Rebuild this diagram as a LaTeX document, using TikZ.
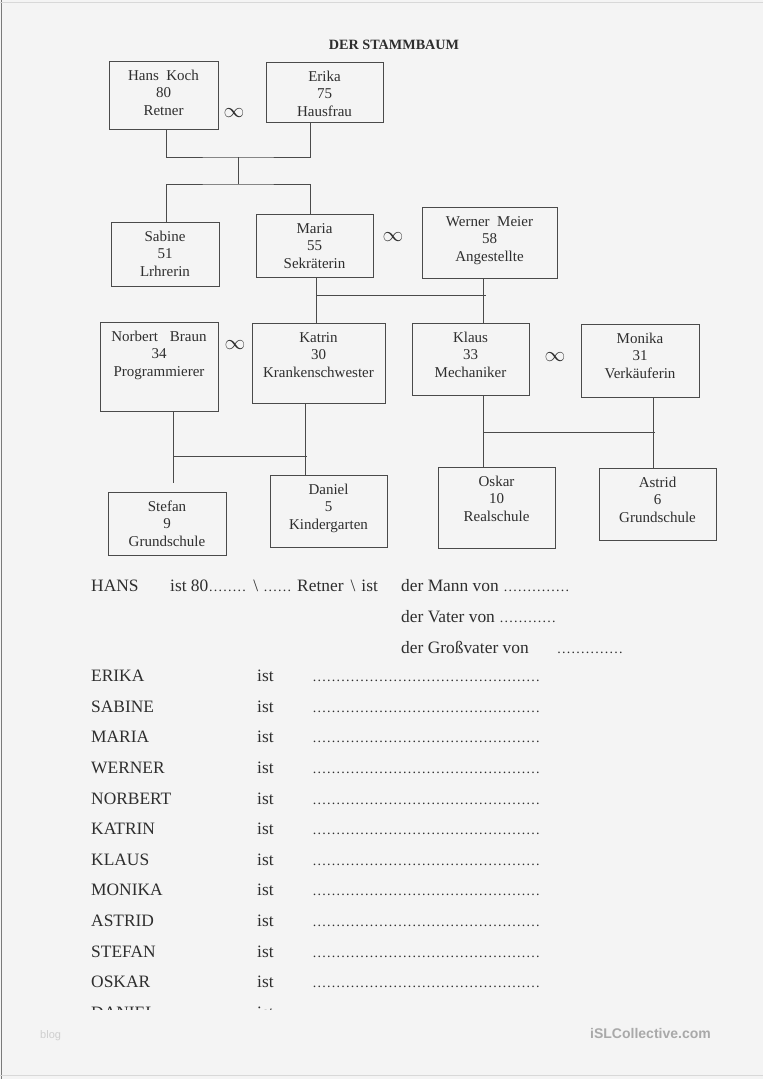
\documentclass[tikz,border=0pt]{standalone}
\usepackage{fontspec}
\setmainfont{Liberation Serif}
\newfontfamily\footsans{Liberation Sans}
\definecolor{bg}{HTML}{F4F4F4}
\definecolor{txt}{HTML}{2E2E2E}
\definecolor{linec}{HTML}{4A4A4A}
\definecolor{edgedark}{HTML}{7A7A7A}
\definecolor{edgelight}{HTML}{D8D8D8}
\definecolor{blogc}{HTML}{CFCFCF}
\definecolor{islc}{HTML}{A9A9A9}
\newcommand\pcard[3]{\parbox[t][#2][t]{#1}{\centering\rule{0pt}{19pt}#3\par}}
\newcommand\blankdots[1]{{\fontsize{14}{14}\selectfont\makebox[#1][l]{\leaders\hbox to 4.75pt{\hss.\hss}\hfill}}}
\begin{document}
\begin{tikzpicture}[x=1pt,y=-1pt,
  person/.style={draw=linec, line width=0.8pt, inner sep=0pt, outer sep=0pt, anchor=north west, text=txt, font=\fontsize{15}{17.5}\selectfont},
  link/.style={draw=linec, line width=0.8pt},
  marry/.style={text=txt, font=\fontsize{20}{20}\selectfont, inner sep=0pt},
  lbl/.style={anchor=base west, text=txt, font=\fontsize{17.4}{20}\selectfont, inner sep=0pt},
]
\fill[bg] (0,0) rectangle (763,1079);
\useasboundingbox (0,0) rectangle (763,1079);
\draw[edgedark, line width=1pt] (1.5,0) -- (1.5,1079);
\draw[edgelight, line width=0.8pt] (0,2) -- (763,2);
\draw[edgelight, line width=0.8pt] (0,1075) -- (763,1075);

% title
\node[anchor=base, font=\bfseries\fontsize{14.2}{14.2}\selectfont, text=txt, inner sep=0pt] (title) at (394,49) {DER STAMMBAUM};

% persons
\node[person] (hans)    at (109,61)  {\pcard{109pt}{68pt}{Hans\ \ Koch\\80\\Retner}};
\node[person] (erika)   at (266,62)  {\pcard{117pt}{60pt}{Erika\\75\\Hausfrau}};
\node[person] (sabine)  at (111,222) {\pcard{108pt}{64pt}{Sabine\\51\\Lrhrerin}};
\node[person] (maria)   at (256,214) {\pcard{117pt}{63pt}{Maria\\55\\Sekräterin}};
\node[person] (werner)  at (422,207) {\pcard{135pt}{71pt}{Werner\ \ Meier\\58\\Angestellte}};
\node[person] (norbert) at (100,322) {\pcard{118pt}{89pt}{Norbert\hspace{12pt}Braun\\34\\Programmierer}};
\node[person] (katrin)  at (252,323) {\pcard{133pt}{80pt}{Katrin\\30\\Krankenschwester}};
\node[person] (klaus)   at (412,323) {\pcard{117pt}{72pt}{Klaus\\33\\Mechaniker}};
\node[person] (monika)  at (581,324) {\pcard{118pt}{73pt}{Monika\\31\\Verkäuferin}};
\node[person] (stefan)  at (108,492) {\pcard{118pt}{63pt}{Stefan\\9\\Grundschule}};
\node[person] (daniel)  at (270,475) {\pcard{117pt}{72pt}{Daniel\\5\\Kindergarten}};
\node[person] (oskar)   at (438,467) {\pcard{117pt}{81pt}{Oskar\\10\\Realschule}};
\node[person] (astrid)  at (599,468) {\pcard{117pt}{72pt}{Astrid\\6\\Grundschule}};

% marriage symbols
\node[marry] (m1) at (234,113) {$\infty$};
\node[marry] (m2) at (393,237) {$\infty$};
\node[marry] (m3) at (235,345) {$\infty$};
\node[marry] (m4) at (555,357) {$\infty$};

% connectors: Hans + Erika
\coordinate (j1) at (238,157);
\coordinate (j2) at (238,184);
\draw[link] ([xshift=2.5pt]hans.south) |- (j1) -| ([xshift=-14.5pt]erika.south);
\draw[link] (j1) -- (j2);
\draw[link] ([xshift=1pt]sabine.north) |- (j2) -| ([xshift=-4.5pt]maria.north);

% Maria + Werner
\coordinate (mS) at ([xshift=1.5pt]maria.south);
\coordinate (wS) at ([xshift=-6.5pt]werner.south);
\coordinate (j3) at (400,295);
\draw[link] (mS) -- (mS |- katrin.north);
\draw[link] (wS) -- (wS |- klaus.north);
\draw[link] (mS |- j3) -- ([xshift=3pt]wS |- j3);

% Norbert + Katrin
\coordinate (nS) at ([xshift=14pt]norbert.south);
\coordinate (kS) at ([xshift=-13.5pt]katrin.south);
\coordinate (sT) at ([xshift=6pt,yshift=9pt]stefan.north);
\coordinate (j4) at (240,456);
\draw[link] (nS) -- (nS |- sT);
\draw[link] (kS) -- (kS |- daniel.north);
\draw[link] (nS |- j4) -- ([xshift=2pt]kS |- j4);

% Klaus + Monika
\coordinate (klS) at ([xshift=12.5pt]klaus.south);
\coordinate (moS) at ([xshift=13pt]monika.south);
\coordinate (j5) at (560,432);
\draw[link] (klS) -- (klS |- oskar.north);
\draw[link] (moS) -- (moS |- astrid.north);
\draw[link] (klS |- j5) -- ([xshift=2pt]moS |- j5);

% exercise text
\node[lbl] (hanslbl) at (91,591) {HANS};
\node[lbl] (hansist) at (170,591) {ist 80\blankdots{39pt}\hspace{6pt}\textbackslash\hspace{5pt}\blankdots{29pt}\hspace{5pt}Retner\hspace{7pt}\textbackslash\hspace{6pt}ist};
\node[lbl] (mann)  at (401,591) {der Mann von \blankdots{68pt}};
\node[lbl] (vater) at (401,622) {der Vater von \blankdots{57pt}};
\node[lbl] (gross) at (401,653) {der Großvater von\hspace{28pt}\blankdots{68pt}};

\begin{scope}
\clip (0,0) rectangle (763,1009);
\foreach \nm [count=\i] in {ERIKA,SABINE,MARIA,WERNER,NORBERT,KATRIN,KLAUS,MONIKA,ASTRID,STEFAN,OSKAR,DANIEL} {
  \node[lbl] (name\i) at (91,{651+30.6*\i}) {\nm};
  \node[lbl] (ist\i)  at (257,{651+30.6*\i}) {ist};
  \node[lbl] (dots\i) at (312,{651+30.6*\i}) {\blankdots{231pt}};
}
\end{scope}

% footer
\node[anchor=base west, text=blogc, font=\footsans\fontsize{11}{11}\selectfont, inner sep=0pt] (blog) at (40,1038) {blog};
\node[anchor=base west, text=islc, font=\footsans\bfseries\fontsize{14}{14}\selectfont, inner sep=0pt] (isl) at (590,1038) {iSLCollective.com};
\end{tikzpicture}
\end{document}
